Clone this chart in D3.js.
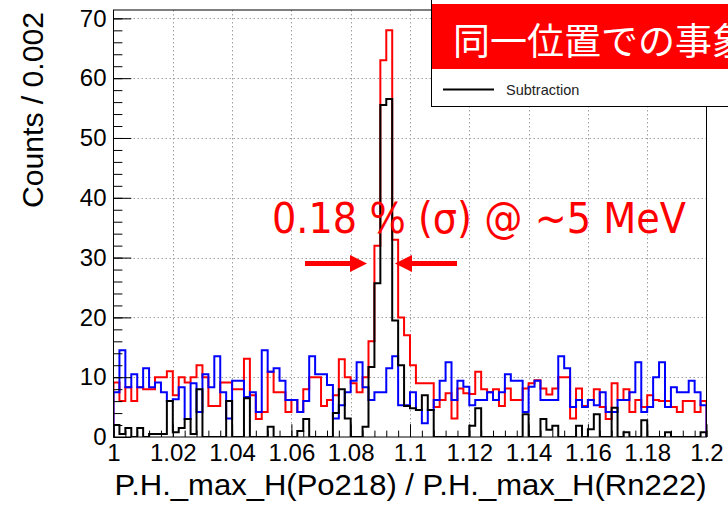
<!DOCTYPE html>
<html>
<head>
<meta charset="utf-8">
<script src="https://cdn.jsdelivr.net/npm/d3@7"></script>
<style>
  html, body { margin: 0; padding: 0; background: #fff; overflow: hidden; }
  svg { display: block; }
</style>
</head>
<body>
<svg id="chart" width="728" height="505"></svg>
<script>
// Histogram binning: 100 bins of width 0.002 between 1.0 and 1.2
const binStart = 1.0;
const binWidth = 0.002;

// Same-position events (red)
const redCounts = [
  9.1, 6, 8.3, 6, 8.3, 8, 8, 10, 10, 11,
  7, 10, 9.1, 10, 12, 10, 5.2, 5.2, 9.1, 9.1,
  8, 8, 13.1, 7, 3, 4.2, 10.9, 7.5, 7.5, 4.2,
  6.2, 4.2, 8, 10, 10, 5.2, 6.2, 7, 13, 10,
  9, 7.5, 10, 16, 32, 63, 68, 33, 20, 17,
  12, 9, 9, 9, 5, 6.2, 7.3, 3.1, 8.1, 7.3,
  7.2, 10.9, 8, 7.5, 8, 5.2, 8.1, 6.2, 6.2, 8.1,
  9, 9.5, 8.1, 7.1, 8.1, 10, 10, 3.1, 8.1, 5.2,
  6.2, 8, 5, 3, 9, 6.2, 8, 4.2, 6.2, 5,
  7, 6.2, 6, 6, 5, 4.2, 6, 6, 4.2, 6
];

// Background estimate (blue)
const blueCounts = [
  7.5, 14.5, 8.3, 10.5, 8.3, 11.5, 8.3, 9.1, 7.5, 6,
  6.3, 8.3, 3, 9, 4.2, 10.5, 8.3, 13.5, 7.5, 3.1,
  9.4, 9.4, 6.7, 7.5, 4.2, 14.5, 10.9, 11.5, 9.4, 6.2,
  6.2, 4.2, 6, 13.5, 10.5, 10.5, 8.7, 3.1, 5.3, 7.5,
  9.4, 12.5, 8.3, 6.2, 7.5, 7.5, 11.5, 13.5, 5.3, 5.3,
  7.5, 4.5, 2.3, 4.5, 6.2, 9.4, 12.5, 6.2, 9.4, 8.4,
  5.3, 6.2, 6.2, 7.5, 6.2, 7.5, 10.5, 9.4, 9.4, 4.2,
  8.4, 9.4, 6.2, 6.2, 6.2, 13.5, 11.5, 5, 6.2, 5,
  6.2, 5.3, 7.5, 4.2, 4.2, 6.2, 6.2, 7.5, 12.5, 4.2,
  5, 10, 12.5, 5, 8.3, 7.5, 7.5, 9.4, 7.5, 5.3
];

// Subtraction (black)
const subtractionCounts = [
  2, 0.5, 1.5, 0, 1.5, 0, 0.5, 0.5, 0.5, 6,
  0.8, 1.5, 3, 0.5, 8, 0, 0, 0, 0, 6,
  0, 0, 6.5, 0, 0, 0, 1.7, 0, 0, 0,
  0, 1, 3, 0, 0, 0, 0, 4, 8, 3.1,
  0, 0, 1.7, 11.7, 25.7, 55.5, 56.5, 19.5, 12, 5.2,
  4.8, 4.5, 7, 4.5, 0, 0, 0, 0, 0, 0,
  1.9, 4.8, 0, 0, 0, 0, 0, 0, 0, 3.8,
  0, 0, 3, 1.2, 1.9, 0, 0, 0, 1.9, 0,
  1.3, 3.8, 0, 0, 4.9, 0, 0.8, 0, 0, 2.8,
  0, 0, 0, 0.8, 0, 0, 0, 0, 0, 0.8
];

// Axis ticks and labels
const xTickValues = [1, 1.02, 1.04, 1.06, 1.08, 1.1, 1.12, 1.14, 1.16, 1.18, 1.2];
const xTickLabels = ["1", "1.02", "1.04", "1.06", "1.08", "1.1", "1.12", "1.14", "1.16", "1.18", "1.2"];
const yTickValues = [0, 10, 20, 30, 40, 50, 60, 70];
const xTitle = "P.H._max_H(Po218) / P.H._max_H(Rn222)";
const yTitle = "Counts / 0.002";
const resolutionNote = "0.18 % (\u03c3) @ ~5 MeV";
const bannerText = "同一位置での事象";
const legendLabel = "Subtraction";

const svg = d3.select("#chart");
const W = 728, H = 505;
const frame = { left: 113.5, right: 706.5, top: 10, bottom: 437 };
const sansFont = "'Liberation Sans', Arial, Helvetica, sans-serif";

const x = d3.scaleLinear().domain([1.0, 1.2]).range([frame.left, frame.right]);
const y = d3.scaleLinear().domain([0, 71.4]).range([frame.bottom, frame.top]);

svg.append("rect").attr("width", W).attr("height", H).attr("fill", "#fff");

const defs = svg.append("defs");
defs.append("clipPath").attr("id", "frameClip")
  .append("rect")
  .attr("x", frame.left).attr("y", frame.top)
  .attr("width", frame.right - frame.left)
  .attr("height", frame.bottom - frame.top);

// Dotted grid at major ticks
const grid = svg.append("g").attr("stroke", "#a0a0a0").attr("stroke-width", 1)
  .attr("stroke-dasharray", "1.5,2.5");
grid.selectAll("line.gx").data(xTickValues.slice(1, -1)).join("line")
  .attr("x1", d => Math.round(x(d)) + 0.5).attr("x2", d => Math.round(x(d)) + 0.5)
  .attr("y1", frame.top).attr("y2", frame.bottom);
grid.selectAll("line.gy").data(yTickValues.slice(1)).join("line")
  .attr("x1", frame.left).attr("x2", frame.right)
  .attr("y1", d => Math.round(y(d)) + 0.5).attr("y2", d => Math.round(y(d)) + 0.5);

// Step outline of a histogram, dropping to zero at both ends
function stepPath(counts) {
  const pts = [[x(binStart), y(0)]];
  counts.forEach((v, i) => {
    const lo = binStart + i * binWidth, hi = lo + binWidth;
    pts.push([x(lo), y(v)], [x(hi), y(v)]);
  });
  pts.push([x(binStart + counts.length * binWidth), y(0)]);
  return d3.line()(pts);
}

const plot = svg.append("g").attr("clip-path", "url(#frameClip)");
[[redCounts, "#ff0000"], [blueCounts, "#0000ff"], [subtractionCounts, "#000000"]]
  .forEach(([counts, color]) => {
    plot.append("path")
      .attr("d", stepPath(counts))
      .attr("fill", "none")
      .attr("stroke", color)
      .attr("stroke-width", 2)
      .attr("stroke-linejoin", "miter");
  });

// Axes with inward ticks
const xMinor = d3.range(0, 51).map(i => 1 + i * 0.004);
const yMinor = d3.range(0, 36).map(i => i * 2);

const xAxisG = svg.append("g").attr("transform", `translate(0,${frame.bottom})`);
xAxisG.call(d3.axisBottom(x).tickValues(xMinor).tickSize(-6.4).tickFormat(""));
xAxisG.append("g").call(
  d3.axisBottom(x).tickValues(xTickValues).tickSize(-12.8).tickPadding(7)
    .tickFormat((d, i) => xTickLabels[i])
);
xAxisG.selectAll("path.domain").remove();
xAxisG.selectAll("line").attr("stroke", "#000");
xAxisG.selectAll("text").attr("font-family", sansFont).attr("font-size", 24).attr("fill", "#000");

const yAxisG = svg.append("g").attr("transform", `translate(${frame.left},0)`);
yAxisG.call(d3.axisLeft(y).tickValues(yMinor).tickSize(-8.9).tickFormat(""));
yAxisG.append("g").call(
  d3.axisLeft(y).tickValues(yTickValues).tickSize(-17.8).tickPadding(7).tickFormat(d3.format("d"))
);
yAxisG.selectAll("path.domain").remove();
yAxisG.selectAll("line").attr("stroke", "#000");
yAxisG.selectAll("text").attr("font-family", sansFont).attr("font-size", 24).attr("fill", "#000");

// Frame
svg.append("rect")
  .attr("x", frame.left).attr("y", frame.top)
  .attr("width", frame.right - frame.left).attr("height", frame.bottom - frame.top)
  .attr("fill", "none").attr("stroke", "#000").attr("stroke-width", 1);

// Axis titles
svg.append("text")
  .attr("x", frame.right).attr("y", 495)
  .attr("text-anchor", "end")
  .attr("font-family", sansFont).attr("font-size", 30)
  .attr("textLength", 592).attr("lengthAdjust", "spacingAndGlyphs")
  .text(xTitle);

svg.append("text")
  .attr("transform", `translate(43,${frame.top + 2}) rotate(-90)`)
  .attr("text-anchor", "end")
  .attr("font-family", sansFont).attr("font-size", 29)
  .attr("textLength", 196).attr("lengthAdjust", "spacingAndGlyphs")
  .text(yTitle);

// Resolution annotation with arrows pointing at the peak
svg.append("text")
  .attr("x", 272).attr("y", 233)
  .attr("font-family", "'DejaVu Sans', sans-serif").attr("font-size", 42)
  .attr("fill", "#ff0000")
  .attr("textLength", 414).attr("lengthAdjust", "spacingAndGlyphs")
  .text(resolutionNote);

const arrowY = 263.5;
const arrows = svg.append("g").attr("fill", "#ff0000");
arrows.append("rect").attr("x", 305).attr("y", arrowY - 2.5).attr("width", 47).attr("height", 5);
arrows.append("path").attr("d", `M350,${arrowY - 8.5} L367,${arrowY} L350,${arrowY + 8.5} Z`);
arrows.append("rect").attr("x", 410).attr("y", arrowY - 2.5).attr("width", 47).attr("height", 5);
arrows.append("path").attr("d", `M412,${arrowY - 8.5} L395,${arrowY} L412,${arrowY + 8.5} Z`);

// Legend box with banner; the banner runs past the right edge of the canvas
const legend = svg.append("g");
legend.append("rect")
  .attr("x", 431.5).attr("y", -5).attr("width", 310).attr("height", 111.5)
  .attr("fill", "#fff").attr("stroke", "#000").attr("stroke-width", 1);
legend.append("rect")
  .attr("x", 432).attr("y", 4).attr("width", 300).attr("height", 65)
  .attr("fill", "#ff0000");
legend.append("text")
  .attr("x", 453).attr("y", 39)
  .attr("dominant-baseline", "central")
  .attr("font-family", "'Noto Sans CJK JP', sans-serif").attr("font-size", 37)
  .attr("fill", "#fff")
  .text(bannerText);
legend.append("line")
  .attr("x1", 443).attr("x2", 494).attr("y1", 89.5).attr("y2", 89.5)
  .attr("stroke", "#000").attr("stroke-width", 2);
legend.append("text")
  .attr("x", 506).attr("y", 94.5)
  .attr("font-family", sansFont).attr("font-size", 14.5).attr("fill", "#222")
  .text(legendLabel);
</script>
</body>
</html>
